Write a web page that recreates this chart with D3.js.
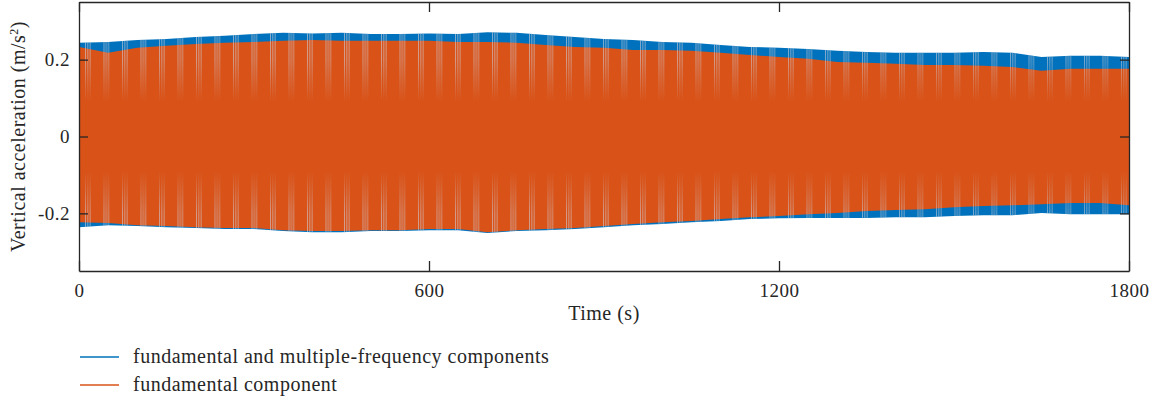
<!DOCTYPE html>
<html lang="en">
<head>
  <meta charset="utf-8">
  <title>Vertical acceleration</title>
  <script src="https://cdn.jsdelivr.net/npm/d3@7"></script>
  <style>
    body { margin: 0; background: #fff; }
    svg text { font-family: "Liberation Serif", "Times New Roman", serif; fill: #262626; letter-spacing: 0.5px; }
    .axis path, .axis line { stroke: #262626; }
  </style>
</head>
<body>
  <div id="chart"></div>
  <script>
    // time samples (s) and envelopes
    const times = [0, 50, 100, 150, 200, 250, 300, 350, 400, 450, 500, 550, 600, 650, 700, 750, 800, 850, 900,
                   950, 1000, 1050, 1100, 1150, 1200, 1250, 1300, 1350, 1400, 1450, 1500, 1550, 1600, 1650, 1700, 1750, 1800];

    // fundamental and multiple-frequency components (blue)
    const blueUpper = [0.244, 0.246, 0.251, 0.254, 0.259, 0.262, 0.267, 0.270, 0.268, 0.270, 0.267, 0.267, 0.268, 0.267, 0.271,
                       0.270, 0.264, 0.259, 0.254, 0.251, 0.246, 0.244, 0.238, 0.233, 0.231, 0.228, 0.223, 0.220, 0.218,
                       0.218, 0.218, 0.220, 0.218, 0.207, 0.210, 0.210, 0.207];
    const blueLower = [-0.236, -0.231, -0.233, -0.236, -0.238, -0.241, -0.241, -0.246, -0.249, -0.249, -0.246, -0.246, -0.244,
                       -0.244, -0.251, -0.246, -0.244, -0.241, -0.236, -0.231, -0.228, -0.223, -0.220, -0.215, -0.213,
                       -0.212, -0.212, -0.212, -0.210, -0.210, -0.207, -0.205, -0.205, -0.199, -0.202, -0.202, -0.202];

    // fundamental component (orange)
    const orangeUpper = [0.233, 0.218, 0.231, 0.236, 0.241, 0.244, 0.246, 0.249, 0.251, 0.249, 0.249, 0.249, 0.249, 0.246,
                         0.246, 0.244, 0.238, 0.233, 0.231, 0.225, 0.225, 0.223, 0.218, 0.212, 0.207, 0.202, 0.194, 0.192,
                         0.189, 0.186, 0.186, 0.184, 0.181, 0.171, 0.176, 0.176, 0.176];
    const orangeLower = [-0.223, -0.225, -0.231, -0.233, -0.236, -0.238, -0.238, -0.244, -0.246, -0.246, -0.244, -0.244,
                         -0.241, -0.241, -0.249, -0.244, -0.241, -0.238, -0.233, -0.228, -0.223, -0.220, -0.215, -0.210,
                         -0.207, -0.202, -0.199, -0.194, -0.191, -0.189, -0.184, -0.181, -0.179, -0.176, -0.173, -0.173, -0.179];

    const xTicks = [0, 600, 1200, 1800];
    const yTicks = [-0.2, 0, 0.2];
    const seriesNames = ["fundamental and multiple-frequency components", "fundamental component"];
    const colors = ["#0072BD", "#D95319"];
    const serif = "Liberation Serif";

    const width = 1156, height = 402;
    const margin = {top: 2, right: 27, bottom: 131, left: 79};
    const x0 = margin.left, x1 = width - margin.right;
    const y0 = margin.top, y1 = height - margin.bottom;

    const svg = d3.select("#chart").append("svg")
      .attr("width", width)
      .attr("height", height);

    const x = d3.scaleLinear().domain([0, 1800]).range([x0, x1]);
    const y = d3.scaleLinear().domain([-0.35, 0.35]).range([y1, y0]);

    const defs = svg.append("defs");
    defs.append("clipPath").attr("id", "plot")
      .append("rect").attr("x", x0).attr("y", y0).attr("width", x1 - x0).attr("height", y1 - y0);

    const band = (lo, hi) => d3.area()
      .x((d, i) => x(times[i]))
      .y0((d, i) => y(lo[i]))
      .y1((d, i) => y(hi[i]))(times);

    const bluePath = band(blueLower, blueUpper);
    const orangePath = band(orangeLower, orangeUpper);

    defs.append("clipPath").attr("id", "signal").append("path").attr("d", bluePath);

    // moire striping seen in the dense trace
    const stripePeriod = 18.5;
    const pat = defs.append("pattern").attr("id", "stripes")
      .attr("patternUnits", "userSpaceOnUse")
      .attr("x", x0 + 6).attr("y", 0)
      .attr("width", stripePeriod).attr("height", height);
    [0, 2.3, 4.6].forEach(o => {
      pat.append("rect").attr("x", o).attr("y", 0).attr("width", 0.9).attr("height", height)
        .attr("fill", "#cfcfd8");
    });

    const grad = defs.append("linearGradient").attr("id", "fade")
      .attr("gradientUnits", "userSpaceOnUse")
      .attr("x1", 0).attr("x2", 0).attr("y1", y0).attr("y2", y1);
    const frac = v => (y(v) - y0) / (y1 - y0);
    [[0.35, 1], [0.2, 0.85], [0.09, 0], [-0.09, 0], [-0.2, 0.85], [-0.35, 1]].forEach(([v, o]) => {
      grad.append("stop").attr("offset", frac(v)).attr("stop-color", "#fff").attr("stop-opacity", o);
    });
    defs.append("mask").attr("id", "fadeMask")
      .append("rect").attr("x", x0).attr("y", y0).attr("width", x1 - x0).attr("height", y1 - y0)
      .attr("fill", "url(#fade)");

    const g = svg.append("g").attr("clip-path", "url(#plot)");
    g.append("path").attr("d", bluePath).attr("fill", colors[0]);
    g.append("path").attr("d", orangePath).attr("fill", colors[1]);
    g.append("g").attr("clip-path", "url(#signal)")
      .append("rect").attr("x", x0).attr("y", y0).attr("width", x1 - x0).attr("height", y1 - y0)
      .attr("fill", "url(#stripes)").attr("mask", "url(#fadeMask)").attr("opacity", 0.75);

    // axes, MATLAB style box with inward ticks
    const tickFont = "19px";
    svg.append("g").attr("class", "axis").attr("transform", `translate(0,${y1})`)
      .call(d3.axisBottom(x).tickValues(xTicks).tickSizeInner(-10).tickSizeOuter(0).tickPadding(13)
        .tickFormat(d3.format("d")));
    svg.append("g").attr("class", "axis").attr("transform", `translate(0,${y0})`)
      .call(d3.axisTop(x).tickValues(xTicks).tickSizeInner(-10).tickSizeOuter(0).tickFormat(""));

    svg.append("g").attr("class", "axis").attr("transform", `translate(${x0},0)`)
      .call(d3.axisLeft(y).tickValues(yTicks).tickSizeInner(-9).tickSizeOuter(0).tickPadding(9)
        .tickFormat(d => d === 0 ? "0" : d3.format(".1f")(d).replace("−", "-")));
    svg.append("g").attr("class", "axis").attr("transform", `translate(${x1},0)`)
      .call(d3.axisRight(y).tickValues(yTicks).tickSizeInner(-9).tickSizeOuter(0).tickFormat(""));

    svg.selectAll(".axis").attr("font-family", serif).attr("font-size", null);
    svg.selectAll(".axis text").style("font-size", tickFont);
    svg.selectAll(".axis path").attr("stroke-width", 1.3);
    svg.selectAll(".axis line").attr("stroke-width", 1.3);

    svg.append("text")
      .attr("x", (x0 + x1) / 2).attr("y", 320)
      .attr("text-anchor", "middle").attr("font-family", serif).style("font-size", "20px")
      .text("Time (s)");

    const yl = svg.append("text")
      .attr("transform", `translate(25,${(y0 + y1) / 2}) rotate(-90)`)
      .attr("text-anchor", "middle").attr("font-family", serif).style("font-size", "20px");
    yl.append("tspan").text("Vertical acceleration (m/s");
    yl.append("tspan").attr("baseline-shift", "super").style("font-size", "12px").text("2");
    yl.append("tspan").text(")");

    // legend
    const legend = svg.append("g");
    seriesNames.forEach((name, i) => {
      const ly = 357 + i * 28;
      legend.append("line").attr("x1", 80).attr("x2", 119).attr("y1", ly).attr("y2", ly)
        .attr("stroke", colors[i]).attr("stroke-width", 1.5);
      legend.append("text").attr("x", 133).attr("y", ly + 6)
        .attr("font-family", serif).style("font-size", "20px").text(name);
    });
  </script>
</body>
</html>
